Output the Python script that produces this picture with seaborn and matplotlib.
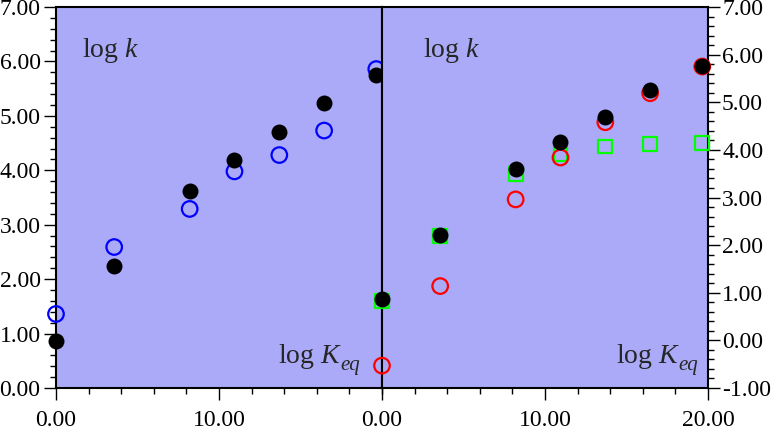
import matplotlib
matplotlib.use("Agg")
import matplotlib.pyplot as plt
from matplotlib.ticker import MultipleLocator, FixedLocator, FormatStrFormatter
import seaborn as sns

# ---- data ----
x_vals = [0.0, 3.57, 8.2, 10.95, 13.7, 16.45, 19.65]
# left panel (log k)
left_blue = [1.36, 2.59, 3.29, 3.98, 4.28, 4.73, 5.86]
left_black = [0.87, 2.24, 3.62, 4.18, 4.70, 5.23, 5.75]
# right panel
right_green = [0.83, 2.20, 3.50, 3.92, 4.07, 4.13, 4.14]
right_red = [-0.53, 1.14, 2.96, 3.84, 4.58, 5.19, 5.75]
right_black = [0.86, 2.21, 3.60, 4.17, 4.70, 5.25, 5.77]

left_xticks = [0, 10]
left_xticklabels = ["0.00", "10.00"]
right_xticks = [0, 10, 20]
left_yticks = [0, 1, 2, 3, 4, 5, 6, 7]
right_yticks = [-1, 0, 1, 2, 3, 4, 5, 6, 7]

# ---- style ----
sns.set_theme(style="ticks")
plt.rcParams["font.family"] = ["Liberation Serif", "DejaVu Serif"]
plt.rcParams["mathtext.fontset"] = "custom"
plt.rcParams["mathtext.rm"] = "Liberation Serif"
plt.rcParams["mathtext.it"] = "Liberation Serif:italic"
plt.rcParams["axes.unicode_minus"] = False

BG = "#AAAAF8"
W, H = 774, 430
fig = plt.figure(figsize=(W / 100, H / 100), dpi=100)

x0, x1, x2 = 56, 382, 708
ytop, ybot = 7, 388
axL = fig.add_axes([x0 / W, 1 - ybot / H, (x1 - x0) / W, (ybot - ytop) / H])
axR = fig.add_axes([x1 / W, 1 - ybot / H, (x2 - x1) / W, (ybot - ytop) / H])

for ax in (axL, axR):
    ax.set_facecolor(BG)
    for s in ax.spines.values():
        s.set_visible(True)
        s.set_color("black")
        s.set_linewidth(1.5)
    ax.set_xlim(0, 20)

OPEN_S = 125
DOT_S = 132
SQ_S = 100
LW = 1.6

# left panel
sns.scatterplot(x=x_vals, y=left_blue, ax=axL, marker="o", s=OPEN_S,
                facecolors="none", edgecolor="#0000FF", linewidth=LW,
                clip_on=False, zorder=3)
sns.scatterplot(x=x_vals, y=left_black, ax=axL, marker="o", s=DOT_S,
                color="black", edgecolor="black", linewidth=0,
                clip_on=False, zorder=4)
axL.set_ylim(0, 7)

# right panel
sns.scatterplot(x=x_vals, y=right_green, ax=axR, marker="s", s=SQ_S,
                facecolors="none", edgecolor="#00FF00", linewidth=LW,
                clip_on=False, zorder=3)
sns.scatterplot(x=x_vals, y=right_red, ax=axR, marker="o", s=OPEN_S,
                facecolors="none", edgecolor="#FF0000", linewidth=LW,
                clip_on=False, zorder=4)
sns.scatterplot(x=x_vals, y=right_black, ax=axR, marker="o", s=DOT_S,
                color="black", edgecolor="black", linewidth=0,
                clip_on=False, zorder=5)
axR.set_ylim(-1, 7)

LS = 17
MAJ, MIN = 8.6, 4.3

# ticks
axL.xaxis.set_major_locator(FixedLocator(left_xticks))
axL.set_xticklabels(left_xticklabels)
axL.xaxis.set_minor_locator(MultipleLocator(2))
axL.yaxis.set_major_locator(FixedLocator(left_yticks))
axL.yaxis.set_major_formatter(FormatStrFormatter("%.2f"))
axL.yaxis.set_minor_locator(MultipleLocator(0.2))
axL.tick_params(axis="both", which="both", direction="out", width=1.0,
                colors="black", labelsize=LS)
axL.tick_params(which="major", length=MAJ)
axL.tick_params(which="minor", length=MIN)
axL.tick_params(axis="y", which="both", pad=2.5, left=True, right=False)
axL.tick_params(axis="x", which="both", pad=7.5, top=False)

axR.xaxis.set_major_locator(FixedLocator(right_xticks))
axR.xaxis.set_major_formatter(FormatStrFormatter("%.2f"))
axR.xaxis.set_minor_locator(MultipleLocator(2))
axR.yaxis.set_major_locator(FixedLocator(right_yticks))
axR.yaxis.set_major_formatter(FormatStrFormatter("%.2f"))
axR.yaxis.set_minor_locator(MultipleLocator(0.2))
axR.yaxis.tick_right()
axR.tick_params(axis="both", which="both", direction="out", width=1.0,
                colors="black", labelsize=LS)
axR.tick_params(which="major", length=MAJ)
axR.tick_params(which="minor", length=MIN)
axR.tick_params(axis="y", which="both", pad=1.5, left=False, right=True,
                labelleft=False, labelright=True)
axR.tick_params(axis="x", which="both", pad=7.5, top=False)

for ax in (axL, axR):
    ax.set_xlabel("")
    ax.set_ylabel("")

# annotations
axL.text(0.08, 0.869, r"$\log\,k$", transform=axL.transAxes, fontsize=20,
         ha="left", va="baseline")
axR.text(0.126, 0.869, r"$\log\,k$", transform=axR.transAxes, fontsize=20,
         ha="left", va="baseline")


def keq_label(ax, xfrac, yfrac):
    t = ax.text(xfrac, yfrac, r"$\log\,K$", transform=ax.transAxes,
                fontsize=20, ha="left", va="baseline")
    ax.annotate("eq", xy=(1, 0), xycoords=t, xytext=(-1.0, 0.5),
                textcoords="offset points", fontsize=15, style="italic",
                ha="left", va="baseline")


keq_label(axL, 0.68, 0.066)
keq_label(axR, 0.718, 0.066)

fig.savefig("out.png", dpi=100)
